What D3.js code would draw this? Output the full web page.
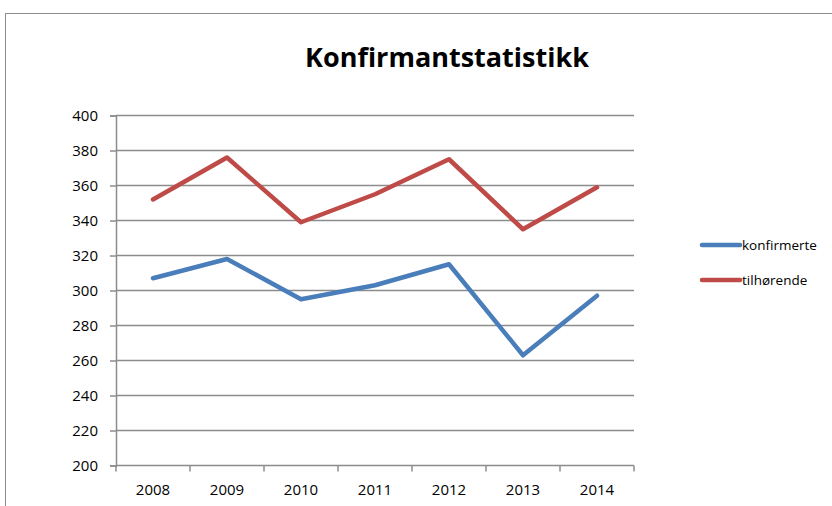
<!DOCTYPE html>
<html>
<head>
<meta charset="utf-8">
<script src="https://cdn.jsdelivr.net/npm/d3@7"></script>
<style>
  body { margin: 0; background: #fff; }
  svg { display: block; font-family: "Open Sans", "Liberation Sans", sans-serif; }
</style>
</head>
<body>
<script>
var years = ["2008", "2009", "2010", "2011", "2012", "2013", "2014"]
var konfirmerte = [307, 318, 295, 303, 315, 263, 297]
var tilhorende = [352, 376, 339, 355, 375, 335, 359]
var yTicks = [200, 220, 240, 260, 280, 300, 320, 340, 360, 380, 400]
var seriesNames = ["konfirmerte", "tilhørende"]
var seriesColors = ["#4a7ebb", "#be4b48"]

;(function() {
  var width = 832, height = 506
  var plotLeft = 116, plotRight = 634, plotTop = 115.5, plotBottom = 465.5

  var svg = d3.select("body").append("svg")
      .attr("width", width)
      .attr("height", height)

  // chart frame
  svg.append("rect")
      .attr("x", 5.5).attr("y", 13.5)
      .attr("width", 900).attr("height", 600)
      .attr("fill", "none")
      .attr("stroke", "#8c8c8c")

  svg.append("text")
      .attr("x", 447).attr("y", 67)
      .attr("text-anchor", "middle")
      .style("font-size", "27px")
      .style("font-weight", "bold")
      .text("Konfirmantstatistikk")

  var x = d3.scaleBand().domain(years).range([plotLeft, plotRight])
  var y = d3.scaleLinear().domain([200, 400]).range([plotBottom, plotTop])

  // gridlines
  svg.append("g")
    .selectAll("line")
    .data(yTicks.slice(1))
    .enter().append("line")
      .attr("x1", plotLeft).attr("x2", plotRight)
      .attr("y1", function(d) { return y(d) })
      .attr("y2", function(d) { return y(d) })
      .attr("stroke", "#8c8c8c")
      .attr("stroke-width", 1.5)

  svg.append("g")
      .attr("transform", "translate(" + plotLeft + ",0)")
      .call(d3.axisLeft(y).tickValues(yTicks).tickSize(6).tickPadding(12))
  var xAxis = svg.append("g")
      .attr("transform", "translate(0," + plotBottom + ")")
      .call(d3.axisBottom(x).tickSize(0).tickPadding(19))

  // category boundary ticks
  xAxis.selectAll("line.sep")
    .data(d3.range(years.length + 1))
    .enter().append("line")
      .attr("class", "sep")
      .attr("x1", function(i) { return plotLeft + i * x.step() })
      .attr("x2", function(i) { return plotLeft + i * x.step() })
      .attr("y1", 0).attr("y2", 6)

  svg.selectAll(".domain, .tick line, line.sep")
      .attr("stroke", "#8c8c8c")
      .attr("stroke-width", 1.5)
  xAxis.select(".domain").attr("d", "M" + plotLeft + ",0H" + plotRight)
  svg.selectAll(".tick text")
      .attr("fill", "#000")
      .style("font-size", "15px")
      .style("font-family", "'Open Sans', sans-serif")

  var line = d3.line()
      .x(function(d, i) { return x(years[i]) + x.bandwidth() / 2 })
      .y(function(d) { return y(d) })

  svg.append("g")
    .selectAll("path")
    .data([konfirmerte, tilhorende])
    .enter().append("path")
      .attr("d", function(d) { return line(d) })
      .attr("fill", "none")
      .attr("stroke", function(d, i) { return seriesColors[i] })
      .attr("stroke-width", 4.5)
      .attr("stroke-linejoin", "round")
      .attr("stroke-linecap", "round")

  var legend = svg.append("g")
    .selectAll("g")
    .data(seriesNames)
    .enter().append("g")
      .attr("transform", function(d, i) { return "translate(702," + (245 + i * 35) + ")" })
  legend.append("line")
      .attr("x1", 0).attr("x2", 38)
      .attr("stroke", function(d, i) { return seriesColors[i] })
      .attr("stroke-width", 4.5)
      .attr("stroke-linecap", "round")
  legend.append("text")
      .attr("x", 40).attr("dy", "0.35em")
      .style("font-size", "13.5px")
      .text(function(d) { return d })
})()
</script>
</body>
</html>
